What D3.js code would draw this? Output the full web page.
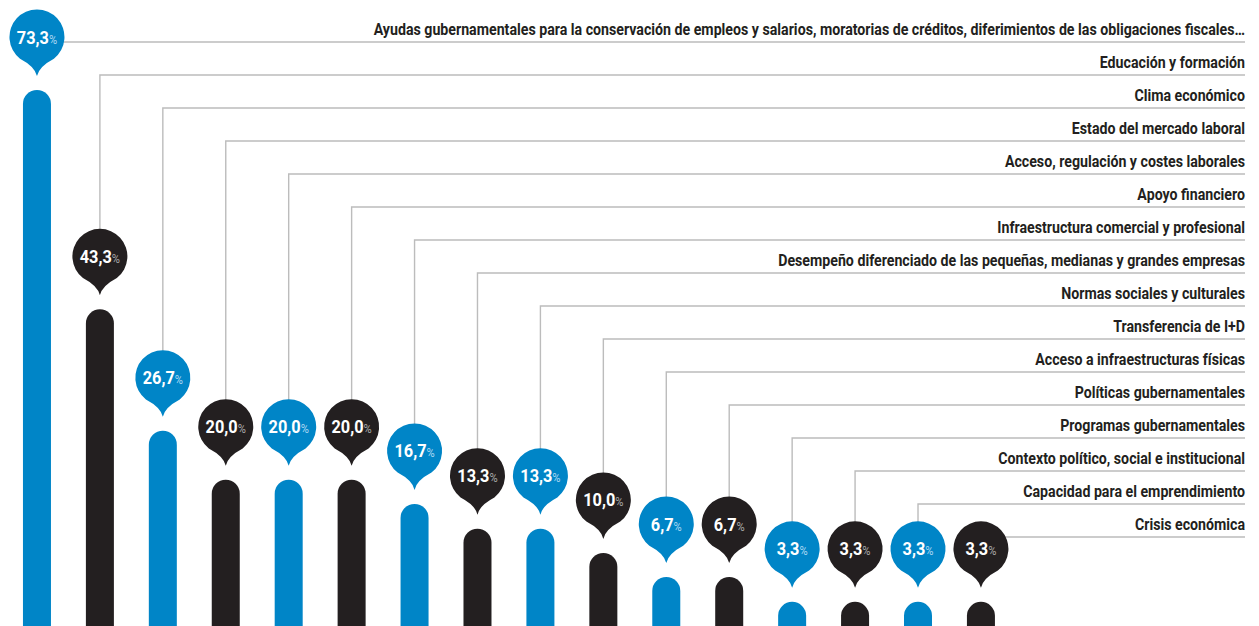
<!DOCTYPE html>
<html>
<head>
<meta charset="utf-8">
<script src="https://cdn.jsdelivr.net/npm/d3@7"></script>
<style>
  body { margin: 0; background: #fff; }
  svg { display: block; font-family: Roboto, "DejaVu Sans Condensed", sans-serif; }
</style>
</head>
<body>
<svg width="1259" height="626"></svg>
<script>
const categories = [
  "Ayudas gubernamentales para la conservación de empleos y salarios, moratorias de créditos, diferimientos de las obligaciones fiscales…",
  "Educación y formación",
  "Clima económico",
  "Estado del mercado laboral",
  "Acceso, regulación y costes laborales",
  "Apoyo financiero",
  "Infraestructura comercial y profesional",
  "Desempeño diferenciado de las pequeñas, medianas y grandes empresas",
  "Normas sociales y culturales",
  "Transferencia de I+D",
  "Acceso a infraestructuras físicas",
  "Políticas gubernamentales",
  "Programas gubernamentales",
  "Contexto político, social e institucional",
  "Capacidad para el emprendimiento",
  "Crisis económica"
];
const values = [73.3, 43.3, 26.7, 20.0, 20.0, 20.0, 16.7, 13.3, 13.3, 10.0, 6.7, 6.7, 3.3, 3.3, 3.3, 3.3];

const blue = "#0085c7", dark = "#231f20";

const svg = d3.select("svg");

const x = d3.scaleBand()
  .domain(categories)
  .range([5.5, 1012.4])
  .paddingInner(0.555)
  .paddingOuter(0.2775);

const y = d3.scaleLinear()
  .domain([0, 73.3])
  .range([626, 90]);

const row = d3.scalePoint()
  .domain(categories)
  .range([42, 537]);

const fmt = v => d3.format(".1f")(v).replace(".", ",");
const cx = d => x(d) + x.bandwidth() / 2;

const data = categories.map((c, i) => ({ cat: c, val: values[i], col: i % 2 === 0 ? blue : dark }));

// leader lines
svg.append("g").selectAll("path").data(data).enter().append("path")
  .attr("d", d => {
    const cy = y(d.val) - 53;
    return "M" + cx(d.cat) + "," + cy + "V" + row(d.cat) + "H1245";
  })
  .attr("fill", "none")
  .attr("stroke", "#bcbcbc")
  .attr("stroke-width", 1.4);

// labels (condensed look: squeeze horizontally so the longest one fits like the original)
const labels = svg.append("g").selectAll("text").data(data).enter().append("text")
  .attr("text-anchor", "end")
  .attr("font-size", 16.5)
  .attr("font-weight", "bold")
  .attr("fill", dark)
  .text(d => d.cat);
const k = 872 / labels.node().getComputedTextLength();
labels.attr("transform", d => "translate(1245," + (row(d.cat) - 7) + ") scale(" + k + ",1)");

// bars
svg.append("g").selectAll("rect").data(data).enter().append("rect")
  .attr("x", d => x(d.cat))
  .attr("y", d => y(d.val))
  .attr("width", x.bandwidth())
  .attr("height", d => y(0) - y(d.val) + 30)
  .attr("rx", x.bandwidth() / 2)
  .attr("fill", d => d.col);

// bubbles
const r = 27.5;
const bubble = svg.append("g").selectAll("g").data(data).enter().append("g")
  .attr("transform", d => "translate(" + cx(d.cat) + "," + (y(d.val) - 53) + ")");

bubble.append("path")
  .attr("d", () => {
    const a = 38 * Math.PI / 180;
    const sx = r * Math.sin(a), sy = r * Math.cos(a);
    return "M" + (-sx) + "," + sy +
      "A" + r + "," + r + " 0 1 1 " + sx + "," + sy +
      "Q2," + (r + 2) + " 0," + (r + 11.5) +
      "Q-2," + (r + 2) + " " + (-sx) + "," + sy + "Z";
  })
  .attr("fill", d => d.col);

const t = bubble.append("text")
  .attr("transform", "translate(0,6.5) scale(" + k + ",1)")
  .attr("text-anchor", "middle")
  .attr("fill", "#fff");
t.append("tspan")
  .attr("font-size", 19)
  .attr("font-weight", "bold")
  .text(d => fmt(d.val));
t.append("tspan")
  .attr("font-size", 13)
  .attr("fill", d => d.col === blue ? "#a9d6f2" : "#a7a7a7")
  .text("%");
</script>
</body>
</html>
